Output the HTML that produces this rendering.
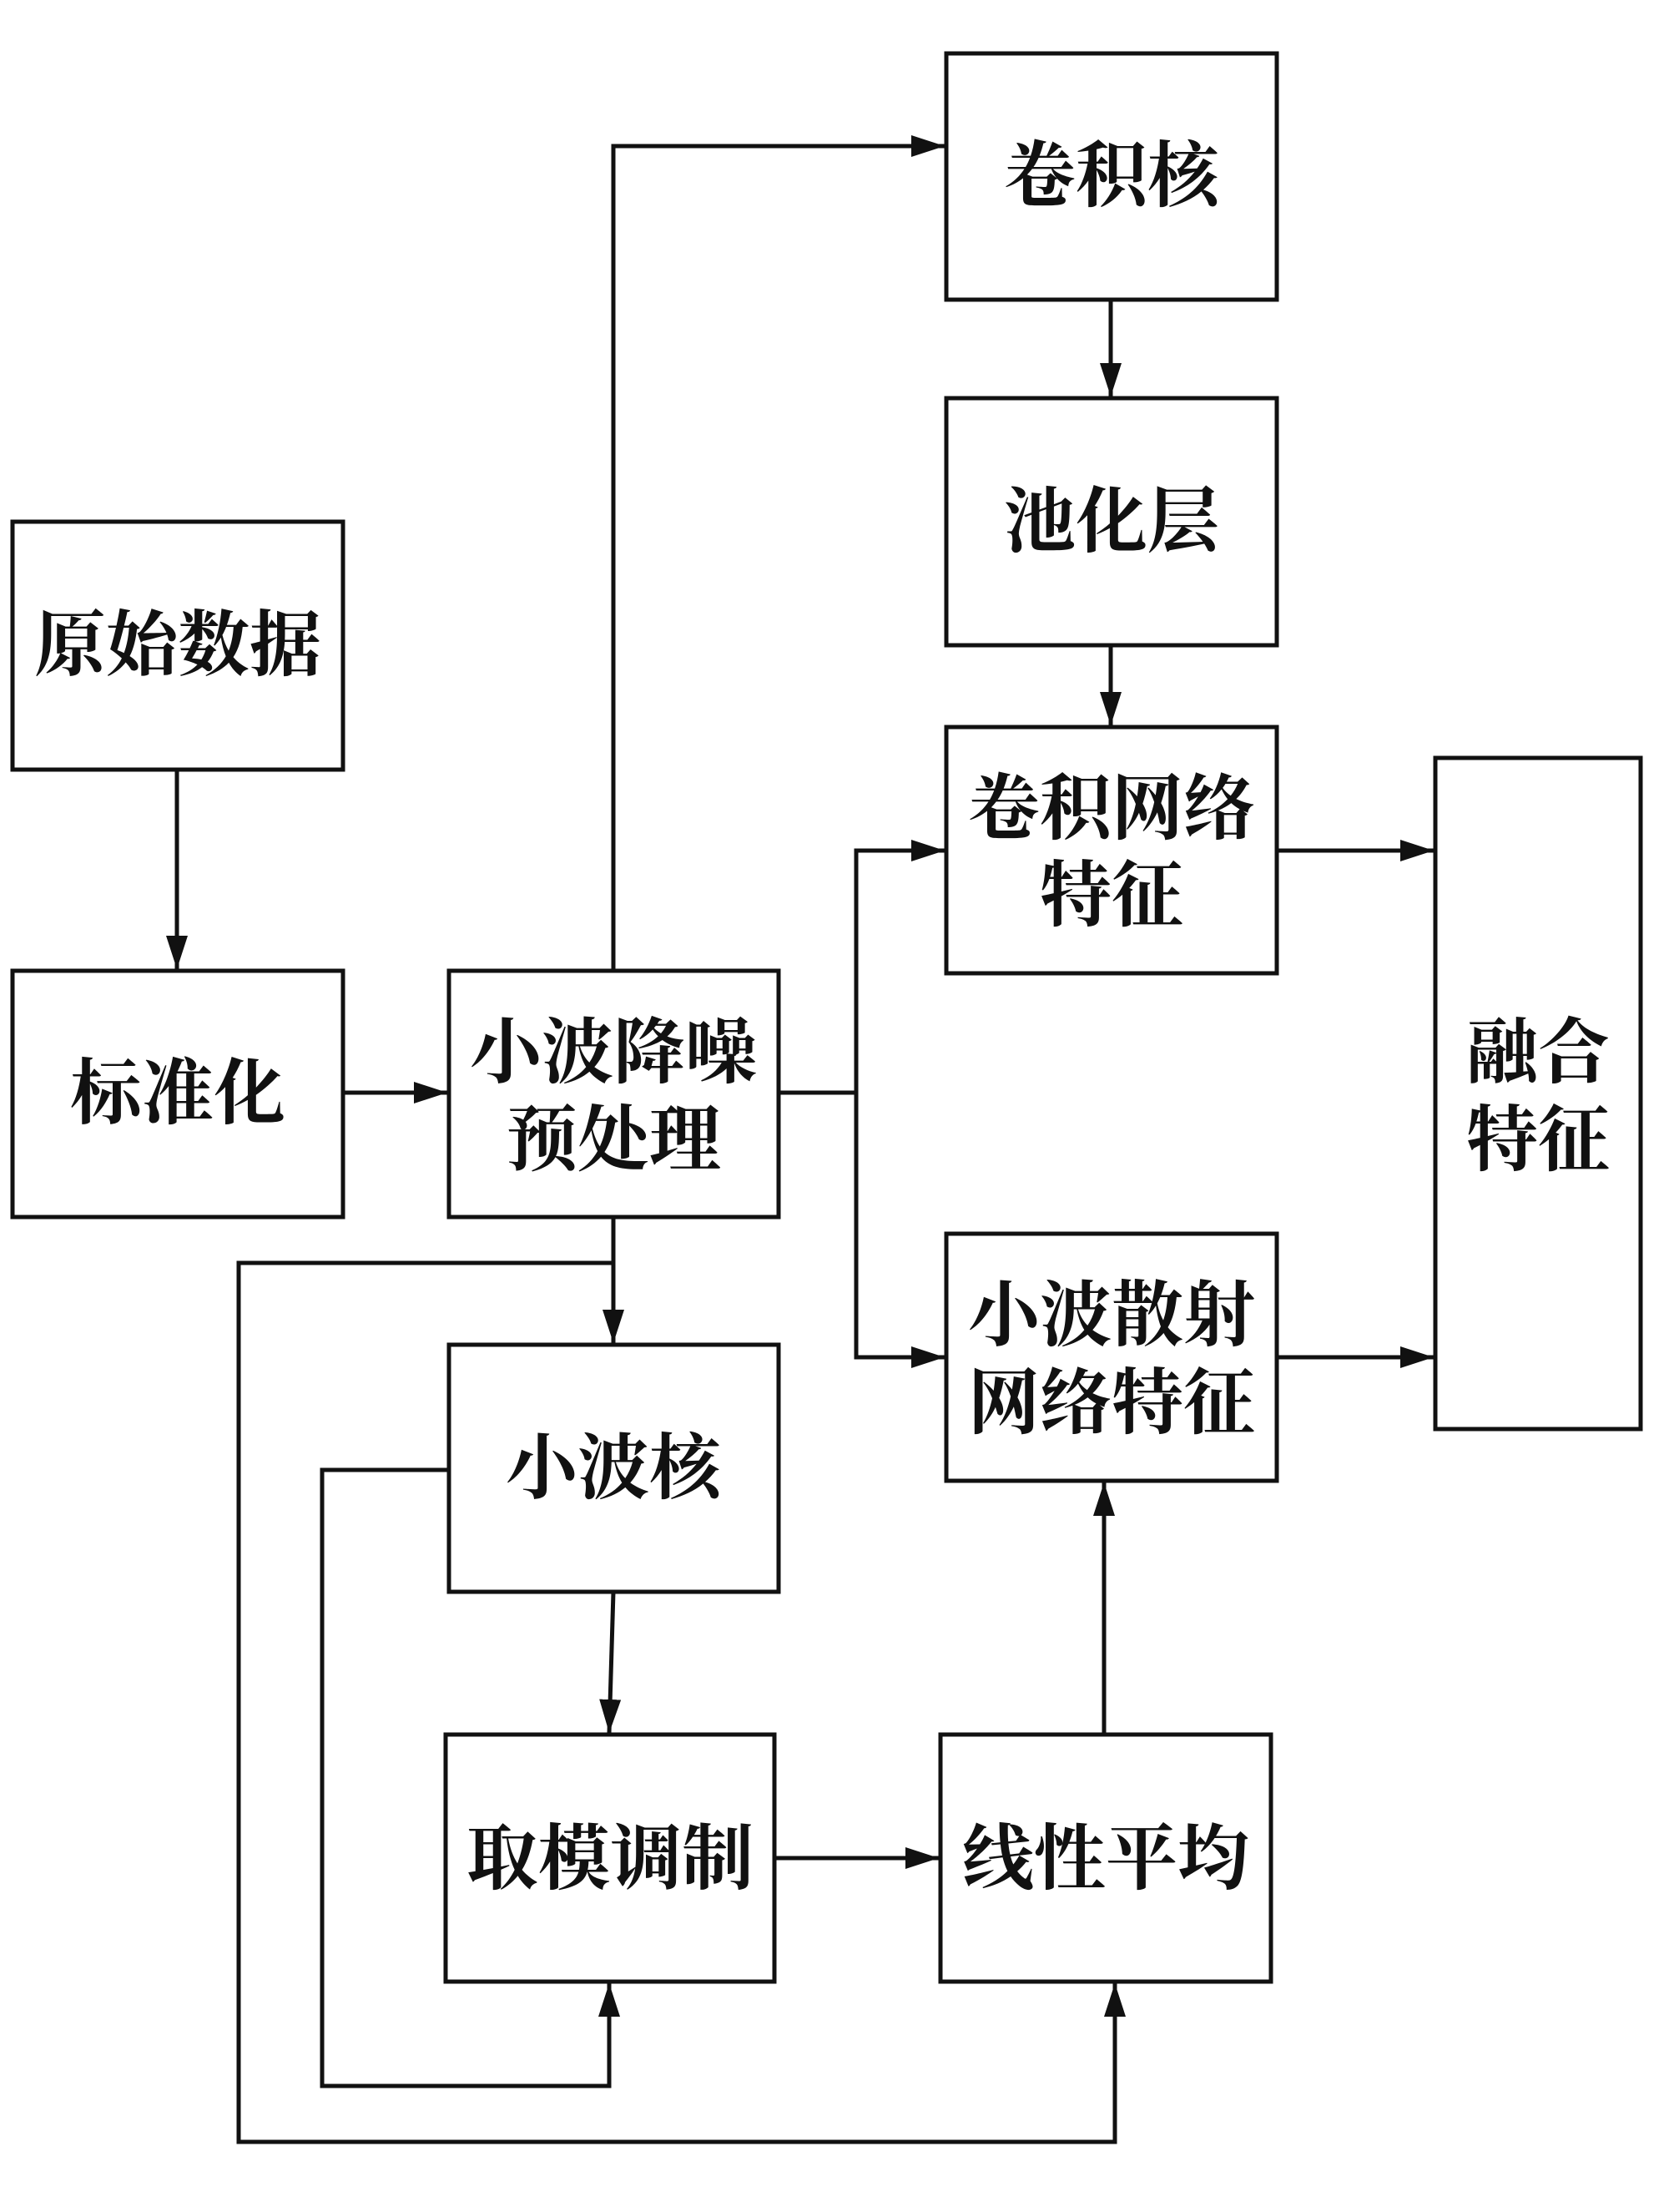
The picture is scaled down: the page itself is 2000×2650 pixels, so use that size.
<!DOCTYPE html>
<html><head><meta charset="utf-8"><style>
html,body{margin:0;padding:0;background:#fff}
svg{display:block}
text{font-family:"Liberation Serif","Noto Serif CJK SC",serif;font-size:86px;font-weight:bold;fill:#111;text-anchor:middle}
</style></head><body>
<svg width="2000" height="2650" viewBox="0 0 2000 2650" xmlns="http://www.w3.org/2000/svg">
<defs><marker id="a" markerWidth="10" markerHeight="8" refX="9" refY="4" orient="auto" markerUnits="userSpaceOnUse" viewBox="0 0 10 8"><path d="M0,0 L10,4 L0,8z" fill="#111"/></marker>
<marker id="b" viewBox="0 0 40 26" refX="40" refY="13" markerWidth="40" markerHeight="26" orient="auto" markerUnits="userSpaceOnUse"><path d="M0,0 L40,13 L0,26z" fill="#111"/></marker></defs>
<g fill="none" stroke="#111" stroke-width="5">
<rect x="15" y="625" width="396" height="297"/>
<rect x="15" y="1163" width="396" height="295"/>
<rect x="538" y="1163" width="395" height="295"/>
<rect x="1134" y="64" width="396" height="295"/>
<rect x="1134" y="477" width="396" height="296"/>
<rect x="1134" y="871" width="396" height="295"/>
<rect x="1134" y="1478" width="396" height="296"/>
<rect x="1720" y="908" width="246" height="804"/>
<rect x="538" y="1611" width="395" height="296"/>
<rect x="534" y="2078" width="394" height="296"/>
<rect x="1127" y="2078" width="396" height="296"/>
</g>
<g fill="none" stroke="#111" stroke-width="5" marker-end="url(#b)">
<path d="M212,922 V1161"/>
<path d="M411,1309 H536"/>
<path d="M735,1163 V175 H1132"/>
<path d="M1331,359 V475"/>
<path d="M1331,773 V869"/>
<path d="M933,1309 H1026 V1019 H1132"/>
<path d="M1026,1309 V1626 H1132"/>
<path d="M1530,1019 H1718"/>
<path d="M1530,1626 H1718"/>
<path d="M735,1458 V1609"/>
<path d="M735,1513 H286 V2566 H1336 V2376"/>
<path d="M538,1761 H386 V2499 H730 V2376"/>
<path d="M735,1907 L730,2076"/>
<path d="M928,2226 H1125"/>
<path d="M1323,2078 V1776"/>
</g>
<text x="213" y="802">原始数据</text>
<text x="213" y="1339">标准化</text>
<text x="735" y="1290">小波降噪</text>
<text x="735" y="1395">预处理</text>
<text x="1332" y="240">卷积核</text>
<text x="1332" y="654">池化层</text>
<text x="1332" y="998">卷积网络</text>
<text x="1332" y="1102">特征</text>
<text x="1332" y="1605">小波散射</text>
<text x="1332" y="1710">网络特征</text>
<text x="1843" y="1290">融合</text>
<text x="1843" y="1395">特征</text>
<text x="735" y="1788">小波核</text>
<text x="731" y="2256">取模调制</text>
<text x="1325" y="2256">线性平均</text>
</svg>
</body></html>
